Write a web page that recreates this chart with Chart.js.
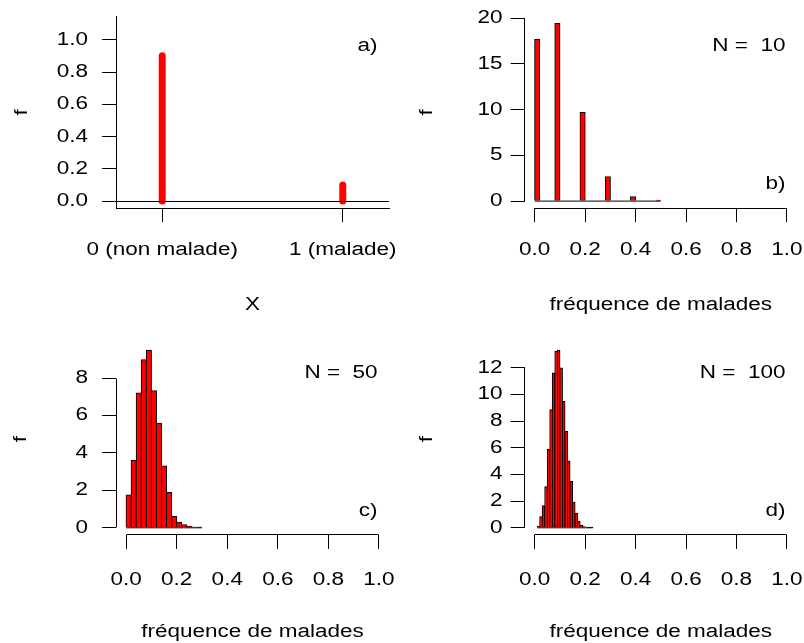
<!DOCTYPE html>
<html>
<head>
<meta charset="utf-8">
<script src="https://cdn.jsdelivr.net/npm/chart.js@4/dist/chart.umd.min.js"></script>
<style>
body { margin: 0; background: #fff; }
#wrap { position: relative; width: 804px; height: 643px; }
canvas { position: absolute; }
</style>
</head>
<body>
<div id="wrap">
  <canvas id="pa" width="402" height="321" style="left:0;top:0"></canvas>
  <canvas id="pb" width="402" height="321" style="left:402px;top:0"></canvas>
  <canvas id="pc" width="402" height="321" style="left:0;top:322px"></canvas>
  <canvas id="pd" width="402" height="321" style="left:402px;top:322px"></canvas>
</div>
<script>
// a) loi de Bernoulli
const catA = [0, 1];
const catLabelsA = ['0 (non malade)', '1 (malade)'];
const probA = [0.9, 0.1];
const xlimA = [-0.2, 1.2];
const ylimA = [0, 1.1];
const yTicksA = [0, 0.2, 0.4, 0.6, 0.8, 1.0];

// b) c) d) histogrammes (densite) de la frequence de malades
const xTicksH = [0, 0.2, 0.4, 0.6, 0.8, 1.0];
const xlimH = [0, 1];

const startB = 0, widthB = 0.02;
const densB = [17.66, 0, 0, 0, 19.4, 0, 0, 0, 0, 9.69, 0, 0, 0, 0, 2.67, 0, 0, 0, 0, 0.47, 0, 0, 0, 0, 0.1];
const yTicksB = [0, 5, 10, 15, 20];

const startC = 0, widthC = 0.02;
const densC = [1.75, 3.59, 7.2, 8.98, 9.48, 7.32, 5.59, 3.3, 1.88, 0.61, 0.3, 0.16, 0.07, 0.03, 0.02];
const yTicksC = [0, 2, 4, 6, 8];

const startD = 0.01, widthD = 0.01;
const densD = [0.1, 0.83, 1.65, 3.08, 5.89, 8.84, 11.6, 13.22, 13.3, 11.97, 9.47, 7.21, 5.01, 3.46, 1.91, 1.08, 0.5, 0.2, 0.08, 0.05, 0.02, 0.02];
const yTicksD = [0, 2, 4, 6, 8, 10, 12];

const FONT = { family: '"Liberation Sans", Arial, sans-serif', size: 18 };
const TEXT_STRETCH = 1.25;
Chart.defaults.color = '#000';

// the R text is wider than Arial, stretch every label about its anchor
const rawFillText = CanvasRenderingContext2D.prototype.fillText;
CanvasRenderingContext2D.prototype.fillText = function (text, x, y) {
  this.save();
  this.translate(x, y);
  this.scale(TEXT_STRETCH, 1);
  rawFillText.call(this, text, 0, 0);
  this.restore();
};

const W = 402, H = 321;
// plot regions inside each canvas
const frames = {
  a: { left: 116, right: 389, top: 16.5, bottom: 208.2, yPad: 14, xPad: 17, fPad: 11, tPad: 5.2 },
  b: { left: 122.6, right: 395, top: 16.5, bottom: 208.2, yPad: 8, xPad: 17, fPad: 14.2, tPad: 5.2 },
  c: { left: 116, right: 389.1, top: 21.2, bottom: 212.9, yPad: 14, xPad: 20.5, fPad: 10.5, tPad: 0 },
  d: { left: 122.6, right: 395, top: 21.2, bottom: 212.9, yPad: 8, xPad: 20.5, fPad: 14.2, tPad: 0 }
};

// R extends each axis range by 4%
const ext = ([lo, hi]) => [lo - 0.04 * (hi - lo), hi + 0.04 * (hi - lo)];

const align = p => Math.round(p - 0.5) + 0.5;

// R style axes: line only between first and last tick
const rAxes = {
  id: 'rAxes',
  afterDraw(chart, args, opts) {
    if (!opts.on) return;
    const { ctx, chartArea, scales: { x, y } } = chart;
    const xt = x.ticks, yt = y.ticks;
    ctx.save();
    ctx.strokeStyle = '#000';
    ctx.lineWidth = 1;
    ctx.beginPath();
    const yb = align(chartArea.bottom);
    ctx.moveTo(align(x.getPixelForValue(xt[0].value)), yb);
    ctx.lineTo(align(x.getPixelForValue(xt[xt.length - 1].value)), yb);
    const xl = align(chartArea.left);
    ctx.moveTo(xl, align(y.getPixelForValue(yt[0].value)));
    ctx.lineTo(xl, align(y.getPixelForValue(yt[yt.length - 1].value)));
    ctx.stroke();
    ctx.restore();
  }
};

const zeroLine = {
  id: 'zeroLine',
  afterDatasetsDraw(chart, args, opts) {
    if (!opts.on) return;
    const { ctx, chartArea, scales: { y } } = chart;
    const py = align(y.getPixelForValue(0));
    ctx.save();
    ctx.strokeStyle = '#000';
    ctx.lineWidth = 1;
    ctx.beginPath();
    ctx.moveTo(chartArea.left, py);
    ctx.lineTo(chartArea.right, py);
    ctx.stroke();
    ctx.restore();
  }
};

const panelText = {
  id: 'panelText',
  afterDraw(chart, args, opts) {
    const { ctx, chartArea: ca } = chart;
    ctx.save();
    ctx.font = FONT.size + 'px ' + FONT.family;
    ctx.fillStyle = '#000';
    ctx.textAlign = 'right';
    ctx.textBaseline = 'middle';
    if (opts.top) ctx.fillText(opts.top, ca.right - 11.5, ca.top + 29.5);
    if (opts.bottom) ctx.fillText(opts.bottom, ca.right - 11.5, ca.bottom - 24);
    ctx.restore();
  }
};

function axes(f, xRange, yRange, xTickVals, yTickVals, xFmt, yFmt, xTitle, boxed) {
  const grid = { drawOnChartArea: false, tickLength: 14, color: '#000', tickColor: '#000', lineWidth: 1, offset: false };
  const border = { display: boxed, color: '#000', width: 1 };
  return {
    x: {
      type: 'linear', min: xRange[0], max: xRange[1], offset: false,
      grid: grid, border: border,
      afterBuildTicks: s => { s.ticks = xTickVals.map(v => ({ value: v })); },
      afterFit: s => { s.height = H - f.bottom; s.paddingLeft = 0; s.paddingRight = 0; },
      ticks: { autoSkip: false, maxRotation: 0, minRotation: 0, padding: f.xPad, font: FONT, color: '#000', callback: xFmt },
      title: { display: true, text: xTitle, font: FONT, color: '#000', padding: { top: 0, bottom: f.tPad } }
    },
    y: {
      type: 'linear', min: yRange[0], max: yRange[1],
      grid: grid, border: border,
      afterBuildTicks: s => { s.ticks = yTickVals.map(v => ({ value: v })); },
      afterFit: s => { s.width = f.left; s.paddingTop = 0; s.paddingBottom = 0; },
      ticks: { autoSkip: false, padding: f.yPad, font: FONT, color: '#000', callback: yFmt },
      title: { display: true, text: 'f', font: FONT, color: '#000', padding: { top: f.fPad, bottom: 0 } }
    }
  };
}

function baseOptions(f) {
  return {
    responsive: false, animation: false, devicePixelRatio: 1, events: [],
    layout: { padding: { left: 0, top: f.top, right: W - f.right, bottom: 0 } }
  };
}

// panel a
new Chart(document.getElementById('pa'), {
  type: 'line',
  data: {
    datasets: catA.map((c, i) => ({
      data: [{ x: c, y: 0 }, { x: c, y: probA[i] }],
      borderColor: '#ff0000', borderWidth: 7, borderCapStyle: 'round', pointRadius: 0
    }))
  },
  options: Object.assign(baseOptions(frames.a), {
    scales: axes(frames.a, ext(xlimA), ext(ylimA), catA, yTicksA,
      v => catLabelsA[catA.indexOf(v)], v => v.toFixed(1), 'X', true),
    plugins: { legend: { display: false }, tooltip: { enabled: false }, zeroLine: { on: true }, rAxes: { on: false }, panelText: { top: 'a)' } }
  }),
  plugins: [zeroLine, rAxes, panelText]
});

function histChart(id, f, start, width, dens, yTicks, topText, letter) {
  new Chart(document.getElementById(id), {
    type: 'bar',
    data: {
      datasets: [{
        type: 'bar',
        data: dens.map((v, i) => ({ x: start + (i + 0.5) * width, y: v })),
        backgroundColor: '#ff0000', borderColor: '#000',
        // border centred on the bin edges like R's rect()
        borderSkipped: false, inflateAmount: 0.5, barPercentage: 1, categoryPercentage: 1,
        borderWidth: { top: 1, left: 1, right: 1, bottom: 0 }
      }, {
        type: 'line', order: -1,
        data: [{ x: start, y: 0 }, { x: start + dens.length * width, y: 0 }],
        borderColor: '#000', borderWidth: 1, pointRadius: 0
      }]
    },
    options: Object.assign(baseOptions(f), {
      scales: axes(f, ext(xlimH), ext([0, Math.max(...dens)]), xTicksH, yTicks,
        v => v.toFixed(1), v => String(v), 'fréquence de malades', false),
      plugins: { legend: { display: false }, tooltip: { enabled: false }, zeroLine: { on: false }, rAxes: { on: true }, panelText: { top: topText, bottom: letter } }
    }),
    plugins: [zeroLine, rAxes, panelText]
  });
}

histChart('pb', frames.b, startB, widthB, densB, yTicksB, 'N =  10', 'b)');
histChart('pc', frames.c, startC, widthC, densC, yTicksC, 'N =  50', 'c)');
histChart('pd', frames.d, startD, widthD, densD, yTicksD, 'N =  100', 'd)');
</script>
</body>
</html>
